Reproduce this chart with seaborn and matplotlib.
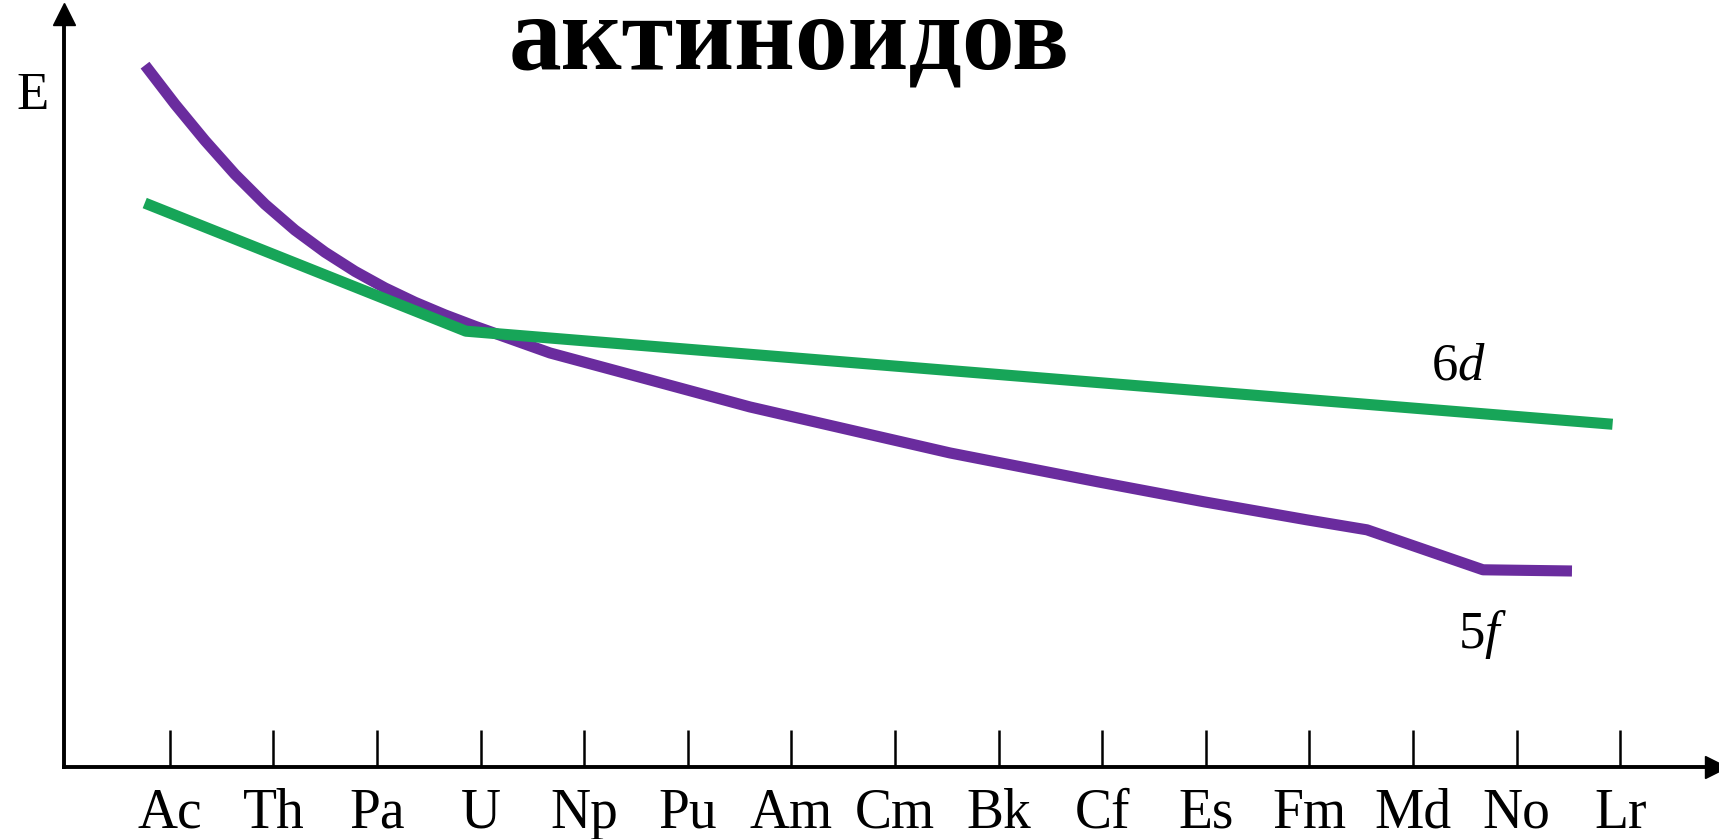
import numpy as np
import matplotlib
matplotlib.use('Agg')
import matplotlib.pyplot as plt
import pandas as pd
import seaborn as sns

## datos (x en unidades de elemento, Ac = 0)
elementos = ['Ac', 'Th', 'Pa', 'U', 'Np', 'Pu', 'Am', 'Cm', 'Bk', 'Cf', 'Es', 'Fm', 'Md', 'No', 'Lr']

x_5f = [-0.240, 0.049, 0.339, 0.628, 0.918, 1.207, 1.497, 1.787, 2.076, 2.366, 2.655, 2.945,
        3.669, 4.634, 5.599, 6.564, 7.530, 8.958, 9.981, 10.976, 11.555, 12.675, 13.534]
e_5f = [6.409, 6.053, 5.720, 5.413, 5.139, 4.903, 4.701, 4.526, 4.375, 4.244, 4.129, 4.025,
        3.781, 3.535, 3.288, 3.078, 2.868, 2.604, 2.422, 2.257, 2.166, 1.801, 1.790]

x_6d = [-0.243, 2.857, 7.534, 13.926]
e_6d = [5.15, 3.98, 3.62, 3.13]

df = pd.concat([
    pd.DataFrame({'x': x_5f, 'E': e_5f, 'orb': '5f'}),
    pd.DataFrame({'x': x_6d, 'E': e_6d, 'orb': '6d'}),
], ignore_index=True)

sns.set_style('white')
plt.rcParams['font.family'] = ['Liberation Serif', 'DejaVu Serif']
plt.rcParams['text.color'] = 'black'
plt.rcParams['xtick.color'] = 'black'
plt.rcParams['mathtext.fontset'] = 'custom'
plt.rcParams['mathtext.rm'] = 'Liberation Serif'
plt.rcParams['mathtext.it'] = 'Liberation Serif:italic'

fig = plt.figure(figsize=(17.19, 8.39), dpi=100)
ax = fig.add_axes([0.037, 0.0858, 0.961, 0.898])

sns.lineplot(data=df, x='x', y='E', hue='orb', sort=False, estimator=None,
             palette={'5f': '#6a2c9e', '6d': '#17a558'}, linewidth=8,
             legend=False, ax=ax, solid_capstyle='butt', solid_joinstyle='round')

ax.set_xlim(-1.026, 14.92)
ax.set_ylim(0, 6.88)
ax.set_xlabel('')
ax.set_ylabel('')

# ejes con flechas
for s in ['top', 'right']:
    ax.spines[s].set_visible(False)
for s in ['left', 'bottom']:
    ax.spines[s].set_color('black')
    ax.spines[s].set_linewidth(2.8)
ax.plot(1, 0, '>k', markersize=16, transform=ax.transAxes, clip_on=False)
ax.plot(0, 1, '^k', markersize=16, transform=ax.transAxes, clip_on=False)

ax.set_xticks(range(len(elementos)))
ax.set_xticklabels(elementos, fontsize=40, color='black')
ax.set_yticks([])
ax.tick_params(axis='x', direction='in', length=27, width=1.8, color='black', pad=15, bottom=True)

ax.text(12.17, 3.54, '6$\\it{d}$', fontsize=38, va='baseline', ha='left')
ax.text(12.43, 1.09, '5$\\it{f}$', fontsize=38, va='baseline', ha='left')

fig.text(0.019, 0.886, 'E', fontsize=38, ha='center', va='center')
fig.text(0.459, 0.918, 'актиноидов', fontsize=76, fontweight='bold', ha='center', va='baseline')

plt.savefig('out.png', dpi=100)
